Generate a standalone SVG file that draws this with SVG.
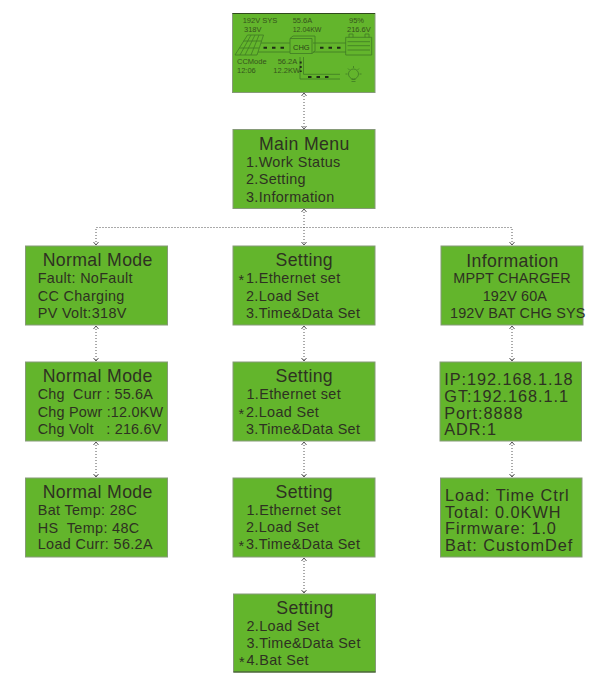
<svg xmlns="http://www.w3.org/2000/svg" width="614" height="685" viewBox="0 0 614 685">
<style>
text{font-family:"Liberation Sans",Arial,sans-serif;fill:#2e3122}
.b{fill:#63b52c;stroke:#869a78;stroke-width:1}
.t{font-size:17.7px;text-anchor:middle;letter-spacing:.35px}
.l{font-size:14.4px;letter-spacing:.35px}
.n{font-size:16.3px;letter-spacing:.95px}
.f{letter-spacing:.15px}
.g{letter-spacing:.2px}
.s{font-size:7.5px;fill:#35531d}
.c{fill:none;stroke:#555;stroke-width:1;stroke-dasharray:1 2}
.a{fill:none;stroke:#555;stroke-width:1}
.i{fill:none;stroke:#3f7a24;stroke-width:.8}
.d{fill:none;stroke:#1f2b16;stroke-width:2;stroke-dasharray:3.500 5}
.e{fill:none;stroke:#2f4a1c;stroke-width:1}
</style>
<defs>
<path id="u" class="a" d="M-2.500 3L0 0L2.500 3"/>
<path id="v" class="a" d="M-2.500 -3L0 0L2.500 -3"/>
</defs>
<g id="connectors">
<path class="c" d="M304 93V129M304 209V245M304 326V361M304 442V477M304 558V593M96 326V361M96 442V477M512 326V361M512 442V477M96 245V227.500H512V245"/>
<use href="#u" x="304" y="93"/><use href="#v" x="304" y="129"/>
<use href="#u" x="304" y="209"/><use href="#v" x="304" y="245"/>
<use href="#v" x="96" y="245"/><use href="#v" x="512" y="245"/>
<use href="#u" x="96" y="326"/><use href="#v" x="96" y="361"/>
<use href="#u" x="96" y="442"/><use href="#v" x="96" y="477"/>
<use href="#u" x="304" y="326"/><use href="#v" x="304" y="361"/>
<use href="#u" x="304" y="442"/><use href="#v" x="304" y="477"/>
<use href="#u" x="304" y="558"/><use href="#v" x="304" y="593"/>
<use href="#u" x="512" y="326"/><use href="#v" x="512" y="361"/>
<use href="#u" x="512" y="442"/><use href="#v" x="512" y="477"/>
</g>
<g id="status">
<rect class="b" x="232.500" y="13.500" width="142.500" height="79"/>
<path class="e" d="M232.500 13.500H375"/>
<text class="s" x="242.700" y="23.300">192V SYS</text><text class="s" x="244" y="31.700">318V</text>
<text class="s" x="292.700" y="23.300">55.6A</text><text class="s" x="292.700" y="31.700" style="font-size:7px">12.04KW</text>
<text class="s" x="349" y="23.300">95%</text><text class="s" x="347" y="31.700">216.6V</text>
<text class="s" x="237" y="64.300">CCMode</text><text class="s" x="237" y="72.700">12:06</text>
<text class="s" x="277.700" y="64.300">56.2A</text><text class="s" x="273.300" y="72.700">12.2KW</text>
<path class="i" d="M247.500 35H263.500L257 55H235ZM251 35L240 55M255 35L245 55M259 35L251 55M243.500 41H261.500M239.500 48H259"/>
<path class="i" d="M261 43H290M258 52H290M313 43H346M313 52H346"/>
<path class="i" d="M290 38.500H312V53.500H290ZM290 38.500L293 36H315V51L312 53.500"/>
<text x="293" y="50" style="font-size:7.500px;fill:#2b4418">CHG</text>
<path class="d" d="M263.500 47.700H285M320 47.700H341"/>
<path class="i" d="M345.700 37.300H371.700V55H345.700ZM347.500 41.700H370M347.500 45.700H370M347.500 50H370M349 37.300V34H353V37.300M365 37.300V34H369V37.300"/>
<path class="i" d="M300 57V79H340M303.500 57V74.300H340"/>
<path class="d" d="M300.700 61.500V72" style="stroke-dasharray:2 2.500"/>
<path class="d" d="M308 77H333"/>
<circle class="i" cx="353.500" cy="74" r="5"/>
<path class="i" d="M351.500 79.500H355.500M351.500 81.500H355.500M345.500 74H347.500M359.500 74H361.500M353.500 66V68M348 68.500L349.500 70M359 68.500L357.500 70"/>
</g>
<g id="main-menu">
<rect class="b" x="233" y="129.500" width="142" height="79"/>
<text class="t" x="304.300" y="150">Main Menu</text>
<text class="l" x="246" y="166.700">1.Work Status</text><text class="l" x="246" y="184.300">2.Setting</text><text class="l" x="246" y="201.700">3.Information</text>
</g>
<g id="normal-1">
<rect class="b" x="25.500" y="246" width="142" height="79"/>
<text class="t" x="97.700" y="266">Normal Mode</text>
<text class="l" x="37.700" y="283.300">Fault: NoFault</text><text class="l" x="37.700" y="301">CC Charging</text><text class="l" x="37.700" y="317.700">PV Volt:318V</text>
</g>
<g id="normal-2">
<rect class="b" x="25.500" y="362" width="142" height="79"/>
<text class="t" x="97.700" y="382.300">Normal Mode</text>
<text class="l g" x="37.700" y="398.700" xml:space="preserve">Chg  Curr : 55.6A</text>
<text class="l g" x="37.700" y="416.700">Chg Powr :12.0KW</text>
<text class="l g" x="37.700" y="433.700" xml:space="preserve">Chg Volt   : 216.6V</text>
</g>
<g id="normal-3">
<rect class="b" x="25.500" y="478" width="142" height="79"/>
<text class="t" x="97.700" y="498.300">Normal Mode</text>
<text class="l" x="37.700" y="515">Bat Temp: 28C</text><text class="l" x="37.700" y="532.700" xml:space="preserve">HS  Temp: 48C</text><text class="l" x="37.700" y="549.300">Load Curr: 56.2A</text>
</g>
<g id="setting-1">
<rect class="b" x="233" y="246" width="142" height="79"/>
<text class="t" x="304.300" y="266">Setting</text>
<text class="l" x="238.500" y="283.300"><tspan dy="2">*</tspan><tspan dy="-2" x="246">1.Ethernet set</tspan></text><text class="l" x="246" y="301">2.Load Set</text><text class="l" x="246" y="317.700">3.Time&amp;Data Set</text>
</g>
<g id="setting-2">
<rect class="b" x="233" y="362" width="142" height="79"/>
<text class="t" x="304.300" y="382.300">Setting</text>
<text class="l" x="246.500" y="398.700">1.Ethernet set</text><text class="l" x="238.500" y="416.700"><tspan dy="2">*</tspan><tspan dy="-2" x="246">2.Load Set</tspan></text><text class="l" x="246" y="433.700">3.Time&amp;Data Set</text>
</g>
<g id="setting-3">
<rect class="b" x="233" y="478" width="142" height="79"/>
<text class="t" x="304.300" y="498.300">Setting</text>
<text class="l" x="246.500" y="515">1.Ethernet set</text><text class="l" x="246" y="532.300">2.Load Set</text><text class="l" x="238.500" y="549.300"><tspan dy="2">*</tspan><tspan dy="-2" x="246">3.Time&amp;Data Set</tspan></text>
</g>
<g id="setting-4">
<rect class="b" x="233.500" y="594" width="142" height="78"/>
<path class="e" d="M233.500 672H375.500"/>
<text class="t" x="305" y="614">Setting</text>
<text class="l" x="246.500" y="631">2.Load Set</text><text class="l" x="246.500" y="648.300">3.Time&amp;Data Set</text><text class="l" x="239" y="665"><tspan dy="2">*</tspan><tspan dy="-2" x="246.500">4.Bat Set</tspan></text>
</g>
<g id="information">
<rect class="b" x="441" y="246" width="142" height="79"/>
<text class="t" x="512.500" y="266.500">Information</text>
<text class="l f" x="453.300" y="283.300">MPPT CHARGER</text><text class="l f" x="482.700" y="301">192V 60A</text><text class="l f" x="450" y="318">192V BAT CHG SYS</text>
</g>
<g id="network">
<rect class="b" x="440" y="362" width="141.500" height="79"/>
<text class="n" x="444.300" y="385">IP:192.168.1.18</text><text class="n" x="444.300" y="402">GT:192.168.1.1</text><text class="n" x="444.300" y="418.500">Port:8888</text><text class="n" x="444.300" y="435">ADR:1</text>
</g>
<g id="system">
<rect class="b" x="440.500" y="478" width="141.500" height="79"/>
<text class="n" x="445" y="500.700">Load: Time Ctrl</text><text class="n" x="445" y="517.500">Total: 0.0KWH</text><text class="n" x="445" y="534.300">Firmware: 1.0</text><text class="n" x="445" y="551">Bat: CustomDef</text>
</g>
</svg>
